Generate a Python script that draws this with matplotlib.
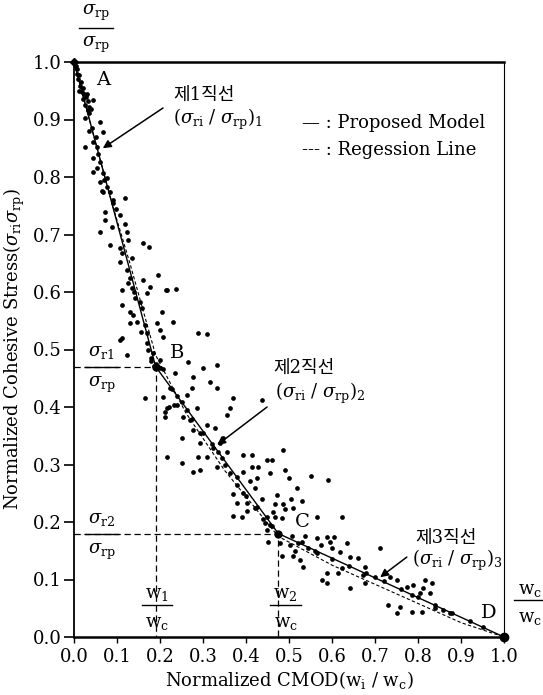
import matplotlib
matplotlib.use('Agg')
import matplotlib.pyplot as plt

plt.rcParams['font.family'] = ['DejaVu Serif', 'Noto Sans CJK KR']
plt.rcParams['mathtext.fontset'] = 'dejavuserif'

# measured points (normalized CMOD, normalized cohesive stress)
x_pts = [
	0.000, 0.004, 0.008, 0.006, 0.012, 0.010, 0.016, 0.014, 0.020, 0.018, 0.024, 0.028, 0.022, 0.032, 0.026, 0.036, 0.040, 0.030, 0.012, 0.034,
	0.044, 0.033, 0.060, 0.026, 0.042, 0.067, 0.026, 0.044, 0.053, 0.044, 0.060, 0.053, 0.044, 0.067, 0.077, 0.060, 0.077, 0.084, 0.119, 0.091,
	0.050, 0.035, 0.055, 0.070, 0.065,
	0.067, 0.091, 0.072, 0.107, 0.072, 0.088, 0.060, 0.123, 0.126, 0.084, 0.107, 0.160, 0.174, 0.112, 0.135, 0.107, 0.123, 0.195, 0.130, 0.160,
	0.112, 0.135, 0.177, 0.214, 0.237, 0.170, 0.142, 0.153, 0.112, 0.158, 0.130, 0.137, 0.205, 0.130, 0.147, 0.165, 0.193, 0.230, 0.200, 0.170,
	0.112, 0.207, 0.288, 0.309, 0.098, 0.118, 0.140, 0.155,
	0.126, 0.216, 0.107, 0.123, 0.170, 0.184, 0.200,
	0.180, 0.190, 0.195, 0.200, 0.207, 0.185, 0.178, 0.172,
	0.265, 0.300, 0.333, 0.235, 0.277, 0.316, 0.165, 0.207, 0.223, 0.263, 0.274, 0.333, 0.370, 0.437, 0.216, 0.240, 0.286, 0.253, 0.270, 0.309,
	0.356, 0.363, 0.277, 0.293, 0.328, 0.347, 0.251, 0.293, 0.340, 0.323, 0.216, 0.288, 0.309, 0.356, 0.393, 0.414, 0.449, 0.486, 0.251, 0.277,
	0.293, 0.332, 0.363, 0.393, 0.428, 0.456, 0.491,
	0.212, 0.222, 0.232, 0.212,
	0.228, 0.240, 0.250, 0.262, 0.275, 0.300, 0.320, 0.335, 0.345, 0.352,
	0.460, 0.414, 0.379, 0.409, 0.426, 0.500, 0.551, 0.591, 0.421, 0.370, 0.393, 0.472, 0.437, 0.519, 0.505, 0.530, 0.379, 0.402, 0.426, 0.467,
	0.486, 0.491, 0.402, 0.463, 0.509, 0.370, 0.391, 0.449, 0.467, 0.484, 0.565, 0.623, 0.444, 0.460, 0.449, 0.507, 0.537, 0.565, 0.588, 0.605,
	0.595, 0.635, 0.712, 0.451, 0.479,
	0.380, 0.400, 0.420, 0.440, 0.455,
	0.502, 0.530, 0.565, 0.600, 0.619, 0.642, 0.660, 0.677, 0.484, 0.509, 0.526, 0.533, 0.588, 0.614, 0.623, 0.642, 0.577, 0.588, 0.672, 0.700,
	0.677, 0.735, 0.751, 0.774, 0.788, 0.812, 0.833, 0.805, 0.828, 0.786, 0.730, 0.758, 0.786, 0.751, 0.809, 0.840, 0.858, 0.874, 0.816,
	0.520, 0.560, 0.600, 0.640, 0.680, 0.720, 0.760, 0.800, 0.840, 0.880, 0.920, 0.950,
	0.575, 0.545, 0.515,
]
y_pts = [
	1.000, 0.993, 0.988, 0.980, 0.978, 0.970, 0.966, 0.958, 0.955, 0.947, 0.944, 0.940, 0.936, 0.932, 0.926, 0.922, 0.918, 0.945, 0.950, 0.912,
	0.934, 0.917, 0.896, 0.903, 0.885, 0.878, 0.852, 0.861, 0.852, 0.833, 0.826, 0.816, 0.809, 0.807, 0.798, 0.791, 0.783, 0.774, 0.763, 0.760,
	0.870, 0.880, 0.840, 0.795, 0.775,
	0.774, 0.755, 0.739, 0.734, 0.725, 0.713, 0.704, 0.704, 0.690, 0.682, 0.677, 0.685, 0.678, 0.668, 0.659, 0.652, 0.638, 0.630, 0.624, 0.621,
	0.603, 0.607, 0.609, 0.603, 0.605, 0.598, 0.590, 0.583, 0.577, 0.572, 0.565, 0.560, 0.565, 0.546, 0.548, 0.543, 0.546, 0.548, 0.534, 0.529,
	0.520, 0.522, 0.529, 0.527, 0.745, 0.718, 0.600, 0.530,
	0.616, 0.603, 0.517, 0.490, 0.511, 0.494, 0.482,
	0.480, 0.475, 0.470, 0.468, 0.466, 0.472, 0.486, 0.500,
	0.478, 0.468, 0.473, 0.459, 0.452, 0.443, 0.416, 0.417, 0.433, 0.421, 0.433, 0.433, 0.416, 0.412, 0.398, 0.403, 0.398, 0.383, 0.377, 0.369,
	0.386, 0.398, 0.360, 0.355, 0.363, 0.346, 0.346, 0.337, 0.337, 0.329, 0.313, 0.313, 0.313, 0.322, 0.317, 0.317, 0.308, 0.325, 0.303, 0.287,
	0.290, 0.296, 0.285, 0.287, 0.296, 0.285, 0.290,
	0.392, 0.400, 0.404, 0.383,
	0.432, 0.420, 0.408, 0.395, 0.380, 0.355, 0.335, 0.322, 0.312, 0.300,
	0.308, 0.296, 0.278, 0.271, 0.277, 0.277, 0.280, 0.273, 0.259, 0.249, 0.250, 0.247, 0.240, 0.259, 0.240, 0.237, 0.233, 0.233, 0.226, 0.231,
	0.231, 0.223, 0.219, 0.217, 0.224, 0.210, 0.209, 0.209, 0.209, 0.207, 0.209, 0.209, 0.198, 0.193, 0.186, 0.176, 0.176, 0.172, 0.174, 0.174,
	0.165, 0.163, 0.155, 0.165, 0.163,
	0.265, 0.245, 0.225, 0.205, 0.195,
	0.160, 0.165, 0.146, 0.155, 0.148, 0.139, 0.137, 0.122, 0.141, 0.141, 0.134, 0.122, 0.111, 0.111, 0.120, 0.085, 0.099, 0.094, 0.108, 0.104,
	0.094, 0.104, 0.099, 0.087, 0.090, 0.085, 0.094, 0.077, 0.077, 0.073, 0.056, 0.052, 0.043, 0.042, 0.043, 0.050, 0.047, 0.042, 0.099,
	0.163, 0.150, 0.136, 0.124, 0.111, 0.097, 0.083, 0.070, 0.056, 0.042, 0.028, 0.018,
	0.160, 0.155, 0.150,
]

# proposed tri-linear model: A, B, C, D
model_x = [0.0, 0.19, 0.475, 1.0]
model_y = [1.0, 0.47, 0.18, 0.0]
# regression line
reg_x = [0.0, 0.05, 0.09, 0.13, 0.19, 0.26, 0.35, 0.475, 0.6, 0.75, 0.9, 1.0]
reg_y = [1.0, 0.86, 0.75, 0.65, 0.49, 0.39, 0.29, 0.175, 0.125, 0.075, 0.025, 0.0]

fig = plt.figure(figsize=(5.43, 6.95), dpi=100)
ax = fig.add_axes([74 / 543, 58 / 695, 430 / 543, 575 / 695])

ax.plot(x_pts, y_pts, 'o', color='black', markersize=3.4, markeredgewidth=0)
ax.plot(reg_x, reg_y, color='black', lw=0.8, linestyle=(0, (3, 2)))
ax.plot(model_x, model_y, color='black', lw=1.0)
ax.plot(model_x[1:3], model_y[1:3], 'o', color='black', markersize=5)
ax.plot(model_x[3], model_y[3], 'o', color='black', markersize=6, clip_on=False)
ax.plot(model_x[0], model_y[0], 'D', color='black', markersize=4, clip_on=False)

# guide lines to B and C
ax.plot([0, model_x[1], model_x[1]], [model_y[1], model_y[1], 0], color='black', lw=0.9, linestyle=(0, (5, 3)))
ax.plot([0, model_x[2], model_x[2]], [model_y[2], model_y[2], 0], color='black', lw=0.9, linestyle=(0, (5, 3)))

ax.set_xlim(0, 1.0)
ax.set_ylim(0, 1.0)
ax.set_xticks([i / 10 for i in range(11)])
ax.set_yticks([i / 10 for i in range(11)])
ax.xaxis.set_major_formatter(plt.FormatStrFormatter('%.1f'))
ax.yaxis.set_major_formatter(plt.FormatStrFormatter('%.1f'))
ax.tick_params(axis='y', direction='out', length=7, width=1.2, labelsize=13, pad=2)
ax.tick_params(axis='x', direction='out', length=4, width=1.0, labelsize=13, pad=4)
ax.spines['top'].set_linewidth(1.8)
ax.spines['bottom'].set_linewidth(1.8)
ax.spines['left'].set_linewidth(1.3)
ax.spines['right'].set_linewidth(0.8)
ax.spines['right'].set_linestyle((0, (4, 1)))

ax.set_xlabel(r'Normalized CMOD(w$_{\rm i}$ / w$_{\rm c}$)', fontsize=13, labelpad=2)
ax.set_ylabel(r'Normalized Cohesive Stress($\sigma_{\rm ri}\sigma_{\rm rp}$)', fontsize=13, labelpad=4)


def frac(x, y_num, y_bar, y_den, num, den, half_w, fs=13):
	ax.text(x, y_num, num, fontsize=fs, ha='center', va='center', clip_on=False)
	ax.text(x, y_den, den, fontsize=fs, ha='center', va='center', clip_on=False)
	ax.plot([x - half_w, x + half_w], [y_bar, y_bar], color='black', lw=1.0, clip_on=False)


s_rp = r'$\sigma_{\rm rp}$'
frac(0.051, 1.085, 1.059, 1.030, s_rp, s_rp, 0.04)
frac(0.064, 0.496, 0.470, 0.438, r'$\sigma_{\rm r1}$', s_rp, 0.038)
frac(0.064, 0.205, 0.180, 0.148, r'$\sigma_{\rm r2}$', s_rp, 0.038)
frac(0.193, 0.074, 0.056, 0.024, r'w$_1$', r'w$_{\rm c}$', 0.036)
frac(0.492, 0.074, 0.056, 0.024, r'w$_2$', r'w$_{\rm c}$', 0.036)
frac(1.06, 0.082, 0.064, 0.033, r'w$_{\rm c}$', r'w$_{\rm c}$', 0.036)

ax.text(0.067, 0.968, 'A', fontsize=14, ha='center', va='center')
ax.text(0.24, 0.494, 'B', fontsize=14, ha='center', va='center')
ax.text(0.53, 0.200, 'C', fontsize=14, ha='center', va='center')
ax.text(0.965, 0.042, 'D', fontsize=14, ha='center', va='center')

ax.text(0.23, 0.943, '제1직선', fontsize=13, ha='left', va='center')
ax.text(0.23, 0.900, r'($\sigma_{\rm ri}$ / $\sigma_{\rm rp}$)$_1$', fontsize=13, ha='left', va='center')
ax.text(0.463, 0.468, '제2직선', fontsize=13, ha='left', va='center')
ax.text(0.467, 0.424, r'($\sigma_{\rm ri}$ / $\sigma_{\rm rp}$)$_2$', fontsize=13, ha='left', va='center')
ax.text(0.793, 0.172, '제3직선', fontsize=13, ha='left', va='center')
ax.text(0.786, 0.134, r'($\sigma_{\rm ri}$ / $\sigma_{\rm rp}$)$_3$', fontsize=13, ha='left', va='center')

arrow = dict(arrowstyle='-|>', color='black', lw=1.1, mutation_scale=12, shrinkA=0, shrinkB=0)
ax.annotate('', xy=(0.067, 0.850), xytext=(0.207, 0.920), arrowprops=arrow)
ax.annotate('', xy=(0.333, 0.334), xytext=(0.449, 0.400), arrowprops=arrow)
ax.annotate('', xy=(0.712, 0.104), xytext=(0.774, 0.139), arrowprops=arrow)

ax.text(0.53, 0.894, '— : Proposed Model', fontsize=13, ha='left', va='center')
ax.text(0.53, 0.847, '--- : Regession Line', fontsize=13, ha='left', va='center')

fig.savefig('out.png', dpi=100)
